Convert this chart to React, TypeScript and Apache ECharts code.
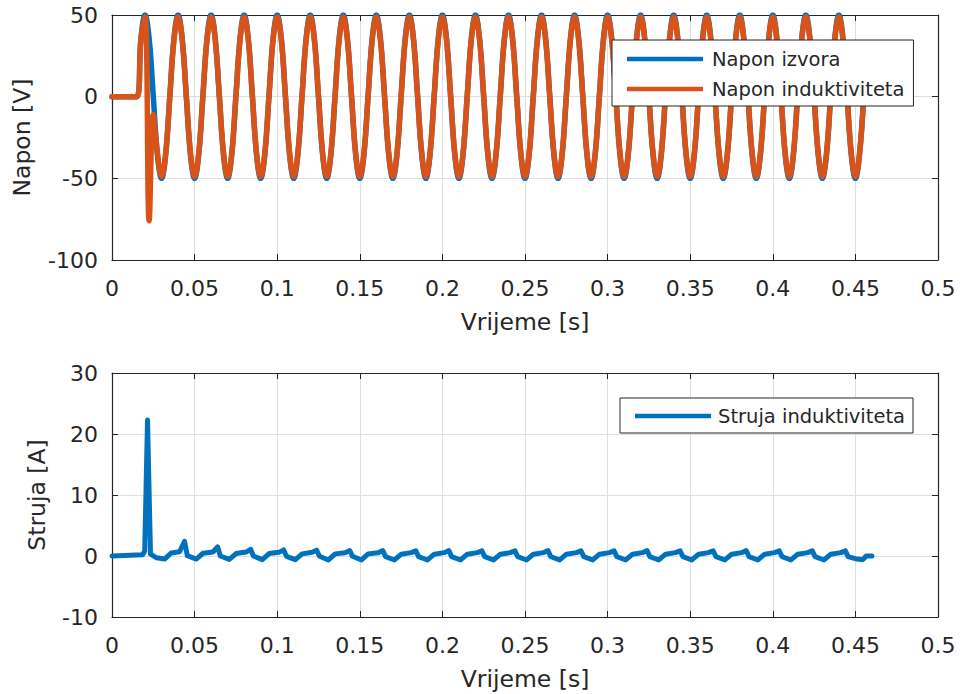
import React, { useEffect, useRef } from "react";
import * as echarts from "echarts";

// ---------- data ----------
const voltageTime = [
  0,
  0.015, 0.0175, 0.02, 0.0225, 0.025, 0.0275, 0.03, 0.0325,
  0.035, 0.0375, 0.04, 0.0425, 0.045, 0.0475, 0.05, 0.0525,
  0.055, 0.0575, 0.06, 0.0625, 0.065, 0.0675, 0.07, 0.0725,
  0.075, 0.0775, 0.08, 0.0825, 0.085, 0.0875, 0.09, 0.0925,
  0.095, 0.0975, 0.1, 0.1025, 0.105, 0.1075, 0.11, 0.1125,
  0.115, 0.1175, 0.12, 0.1225, 0.125, 0.1275, 0.13, 0.1325,
  0.135, 0.1375, 0.14, 0.1425, 0.145, 0.1475, 0.15, 0.1525,
  0.155, 0.1575, 0.16, 0.1625, 0.165, 0.1675, 0.17, 0.1725,
  0.175, 0.1775, 0.18, 0.1825, 0.185, 0.1875, 0.19, 0.1925,
  0.195, 0.1975, 0.2, 0.2025, 0.205, 0.2075, 0.21, 0.2125,
  0.215, 0.2175, 0.22, 0.2225, 0.225, 0.2275, 0.23, 0.2325,
  0.235, 0.2375, 0.24, 0.2425, 0.245, 0.2475, 0.25, 0.2525,
  0.255, 0.2575, 0.26, 0.2625, 0.265, 0.2675, 0.27, 0.2725,
  0.275, 0.2775, 0.28, 0.2825, 0.285, 0.2875, 0.29, 0.2925,
  0.295, 0.2975, 0.3, 0.3025, 0.305, 0.3075, 0.31, 0.3125,
  0.315, 0.3175, 0.32, 0.3225, 0.325, 0.3275, 0.33, 0.3325,
  0.335, 0.3375, 0.34, 0.3425, 0.345, 0.3475, 0.35, 0.3525,
  0.355, 0.3575, 0.36, 0.3625, 0.365, 0.3675, 0.37, 0.3725,
  0.375, 0.3775, 0.38, 0.3825, 0.385, 0.3875, 0.39, 0.3925,
  0.395, 0.3975, 0.4, 0.4025, 0.405, 0.4075, 0.41, 0.4125,
  0.415, 0.4175, 0.42, 0.4225, 0.425, 0.4275, 0.43, 0.4325,
  0.435, 0.4375, 0.44, 0.4425, 0.445, 0.4475, 0.45, 0.4525,
  0.455,
];

const sourceVoltage = [
  0,
  0, 35.4, 50, 35.4, 0, -35.4, -50, -35.4,
  0, 35.4, 50, 35.4, 0, -35.4, -50, -35.4,
  0, 35.4, 50, 35.4, 0, -35.4, -50, -35.4,
  0, 35.4, 50, 35.4, 0, -35.4, -50, -35.4,
  0, 35.4, 50, 35.4, 0, -35.4, -50, -35.4,
  0, 35.4, 50, 35.4, 0, -35.4, -50, -35.4,
  0, 35.4, 50, 35.4, 0, -35.4, -50, -35.4,
  0, 35.4, 50, 35.4, 0, -35.4, -50, -35.4,
  0, 35.4, 50, 35.4, 0, -35.4, -50, -35.4,
  0, 35.4, 50, 35.4, 0, -35.4, -50, -35.4,
  0, 35.4, 50, 35.4, 0, -35.4, -50, -35.4,
  0, 35.4, 50, 35.4, 0, -35.4, -50, -35.4,
  0, 35.4, 50, 35.4, 0, -35.4, -50, -35.4,
  0, 35.4, 50, 35.4, 0, -35.4, -50, -35.4,
  0, 35.4, 50, 35.4, 0, -35.4, -50, -35.4,
  0, 35.4, 50, 35.4, 0, -35.4, -50, -35.4,
  0, 35.4, 50, 35.4, 0, -35.4, -50, -35.4,
  0, 35.4, 50, 35.4, 0, -35.4, -50, -35.4,
  0, 35.4, 50, 35.4, 0, -35.4, -50, -35.4,
  0, 35.4, 50, 35.4, 0, -35.4, -50, -35.4,
  0, 35.4, 50, 35.4, 0, -35.4, -50, -35.4,
  0, 35.4, 50, 35.4, 0, -35.4, -50, -35.4,
  0,
];

const inductorVoltage = [
  0,
  0, 34.7, 49, -76, -11, -34.7, -49, -34.7,
  0, 34.7, 49, 34.7, 0, -34.7, -49, -34.7,
  0, 34.7, 49, 34.7, 0, -34.7, -49, -34.7,
  0, 34.7, 49, 34.7, 0, -34.7, -49, -34.7,
  0, 34.7, 49, 34.7, 0, -34.7, -49, -34.7,
  0, 34.7, 49, 34.7, 0, -34.7, -49, -34.7,
  0, 34.7, 49, 34.7, 0, -34.7, -49, -34.7,
  0, 34.7, 49, 34.7, 0, -34.7, -49, -34.7,
  0, 34.7, 49, 34.7, 0, -34.7, -49, -34.7,
  0, 34.7, 49, 34.7, 0, -34.7, -49, -34.7,
  0, 34.7, 49, 34.7, 0, -34.7, -49, -34.7,
  0, 34.7, 49, 34.7, 0, -34.7, -49, -34.7,
  0, 34.7, 49, 34.7, 0, -34.7, -49, -34.7,
  0, 34.7, 49, 34.7, 0, -34.7, -49, -34.7,
  0, 34.7, 49, 34.7, 0, -34.7, -49, -34.7,
  0, 34.7, 49, 34.7, 0, -34.7, -49, -34.7,
  0, 34.7, 49, 34.7, 0, -34.7, -49, -34.7,
  0, 34.7, 49, 34.7, 0, -34.7, -49, -34.7,
  0, 34.7, 49, 34.7, 0, -34.7, -49, -34.7,
  0, 34.7, 49, 34.7, 0, -34.7, -49, -34.7,
  0, 34.7, 49, 34.7, 0, -34.7, -49, -34.7,
  0, 34.7, 49, 34.7, 0, -34.7, -49, -34.7,
  0,
];

const currentTime = [
  0, 0.0185, 0.0198, 0.0215, 0.0233, 0.027, 0.0318, 0.0359, 0.0409,
  0.0439, 0.0456, 0.051, 0.0551, 0.0611,
  0.0639, 0.0656, 0.071, 0.0751, 0.0811,
  0.0839, 0.0856, 0.091, 0.0951, 0.1011,
  0.1039, 0.1056, 0.111, 0.1151, 0.1211,
  0.1239, 0.1256, 0.131, 0.1351, 0.1411,
  0.1439, 0.1456, 0.151, 0.1551, 0.1611,
  0.1639, 0.1656, 0.171, 0.1751, 0.1811,
  0.1839, 0.1856, 0.191, 0.1951, 0.2011,
  0.2039, 0.2056, 0.211, 0.2151, 0.2211,
  0.2239, 0.2256, 0.231, 0.2351, 0.2411,
  0.2439, 0.2456, 0.251, 0.2551, 0.2611,
  0.2639, 0.2656, 0.271, 0.2751, 0.2811,
  0.2839, 0.2856, 0.291, 0.2951, 0.3011,
  0.3039, 0.3056, 0.311, 0.3151, 0.3211,
  0.3239, 0.3256, 0.331, 0.3351, 0.3411,
  0.3439, 0.3456, 0.351, 0.3551, 0.3611,
  0.3639, 0.3656, 0.371, 0.3751, 0.3811,
  0.3839, 0.3856, 0.391, 0.3951, 0.4011,
  0.4039, 0.4056, 0.411, 0.4151, 0.4211,
  0.4239, 0.4256, 0.431, 0.4351, 0.4411,
  0.4439, 0.4456, 0.451, 0.4545, 0.4565, 0.46,
];

const inductorCurrent = [
  0, 0.2, 0.8, 22.3, 0.3, -0.3, -0.5, 0.5, 0.7,
  2.4, 0.05, -0.5, 0.45, 0.65,
  1.5, 0, -0.55, 0.4, 0.65,
  1.1, 0, -0.6, 0.4, 0.6,
  1.0, -0.05, -0.6, 0.35, 0.6,
  0.95, -0.05, -0.65, 0.35, 0.55,
  0.9, -0.05, -0.65, 0.35, 0.55,
  0.9, -0.1, -0.65, 0.3, 0.55,
  0.85, -0.1, -0.65, 0.3, 0.55,
  0.9, -0.1, -0.65, 0.3, 0.55,
  0.85, -0.1, -0.65, 0.3, 0.55,
  0.85, -0.1, -0.65, 0.3, 0.55,
  0.9, -0.1, -0.65, 0.3, 0.55,
  0.85, -0.1, -0.65, 0.3, 0.55,
  0.85, -0.1, -0.65, 0.3, 0.55,
  0.9, -0.1, -0.65, 0.3, 0.55,
  0.85, -0.1, -0.65, 0.3, 0.55,
  0.85, -0.1, -0.65, 0.3, 0.55,
  0.9, -0.1, -0.65, 0.3, 0.55,
  0.85, -0.1, -0.65, 0.3, 0.55,
  0.85, -0.1, -0.65, 0.3, 0.55,
  0.85, -0.1, -0.5, -0.6, 0, 0,
];

const seriesNames = ["Napon izvora", "Napon induktiviteta", "Struja induktiviteta"];
const axisTitles = { time: "Vrijeme [s]", voltage: "Napon [V]", current: "Struja [A]" };
const timeRange = { min: 0, max: 0.5, interval: 0.05 };
const voltageRange = { min: -100, max: 50, interval: 50 };
const currentRange = { min: -10, max: 30, interval: 10 };

const BLUE = "#0072BD";
const ORANGE = "#D95319";
const INK = "#262626";
const FONT = "DejaVu Sans";

function pairs(xs: number[], ys: number[]) {
  return xs.map((x, i) => [x, ys[i]]);
}

export default function App() {
  const ref = useRef<HTMLDivElement>(null);

  useEffect(() => {
    if (!ref.current) return;
    const chart = echarts.init(ref.current, null, { renderer: "svg" });

    const tickLabel = { fontFamily: FONT, fontSize: 22, color: INK };
    const titleStyle = { fontFamily: FONT, fontSize: 23.5, color: INK };
    const axisLine = { show: true, onZero: false, lineStyle: { color: INK, width: 1.2 } };
    const axisTick = { show: true, inside: true, length: 6, lineStyle: { color: INK, width: 1 } };
    const splitLine = { show: true, lineStyle: { color: "#dfdfdf", width: 1 } };
    const fmtTime = (v: number) => String(Math.round(v * 100) / 100);

    const mainX = (gridIndex: number) => ({
      type: "value",
      gridIndex,
      position: "bottom",
      ...timeRange,
      name: axisTitles.time,
      nameLocation: "middle",
      nameGap: 50,
      nameTextStyle: titleStyle,
      axisLine,
      axisTick,
      splitLine,
      axisLabel: { ...tickLabel, margin: 17, formatter: fmtTime },
    });
    const topX = (gridIndex: number) => ({
      type: "value",
      gridIndex,
      position: "top",
      ...timeRange,
      axisLine,
      axisTick,
      splitLine: { show: false },
      axisLabel: { show: false },
    });
    const mainY = (gridIndex: number, range: any, name: string, gap: number) => ({
      type: "value",
      gridIndex,
      position: "left",
      ...range,
      name,
      nameLocation: "middle",
      nameRotate: 90,
      nameGap: gap,
      nameTextStyle: titleStyle,
      axisLine,
      axisTick,
      splitLine,
      axisLabel: { ...tickLabel, margin: 14 },
    });
    const rightY = (gridIndex: number, range: any) => ({
      type: "value",
      gridIndex,
      position: "right",
      ...range,
      axisLine,
      axisTick,
      splitLine: { show: false },
      axisLabel: { show: false },
    });

    const lineBase = {
      type: "line",
      showSymbol: false,
      symbol: "none",
      emphasis: { disabled: true },
    };

    const legendBase = {
      orient: "vertical",
      icon: "rect",
      itemWidth: 76,
      itemHeight: 4.5,
      itemGap: 10,
      borderColor: INK,
      borderWidth: 1,
      borderRadius: 0,
      backgroundColor: "#ffffff",
      selectedMode: false,
    };

    chart.setOption({
      animation: false,
      backgroundColor: "#ffffff",
      grid: [
        { left: 112, right: 22, top: 15, height: 245, containLabel: false },
        { left: 112, right: 22, top: 373, height: 244, containLabel: false },
      ],
      xAxis: [mainX(0), topX(0), mainX(1), topX(1)],
      yAxis: [
        mainY(0, voltageRange, axisTitles.voltage, 78),
        rightY(0, voltageRange),
        mainY(1, currentRange, axisTitles.current, 63),
        rightY(1, currentRange),
      ],
      legend: [
        {
          ...legendBase,
          left: 612,
          top: 40,
          padding: [9, 9, 7, 15],
          data: [seriesNames[0], seriesNames[1]],
          textStyle: { fontFamily: FONT, fontSize: 19.5, color: INK, lineHeight: 20, padding: [0, 0, 0, 4] },
        },
        {
          ...legendBase,
          left: 620,
          top: 398,
          padding: [8, 8, 7, 15],
          data: [seriesNames[2]],
          textStyle: { fontFamily: FONT, fontSize: 19.5, color: INK, lineHeight: 20, padding: [0, 0, 0, 2] },
        },
      ],
      series: [
        {
          ...lineBase,
          name: seriesNames[0],
          xAxisIndex: 0,
          yAxisIndex: 0,
          smooth: 0.4,
          data: pairs(voltageTime, sourceVoltage),
          itemStyle: { color: BLUE },
          lineStyle: { color: BLUE, width: 5.5, cap: "round", join: "round" },
        },
        {
          ...lineBase,
          name: seriesNames[1],
          xAxisIndex: 0,
          yAxisIndex: 0,
          smooth: 0.4,
          data: pairs(voltageTime, inductorVoltage),
          itemStyle: { color: ORANGE },
          lineStyle: { color: ORANGE, width: 5.5, cap: "round", join: "round" },
        },
        {
          ...lineBase,
          name: seriesNames[2],
          xAxisIndex: 2,
          yAxisIndex: 2,
          smooth: false,
          data: pairs(currentTime, inductorCurrent),
          itemStyle: { color: BLUE },
          lineStyle: { color: BLUE, width: 5, cap: "round", join: "round" },
        },
      ],
    });

    return () => chart.dispose();
  }, []);

  return (
    <div
      ref={ref}
      style={{ position: "absolute", left: 0, top: 0, width: 960, height: 694, background: "#fff" }}
    />
  );
}
